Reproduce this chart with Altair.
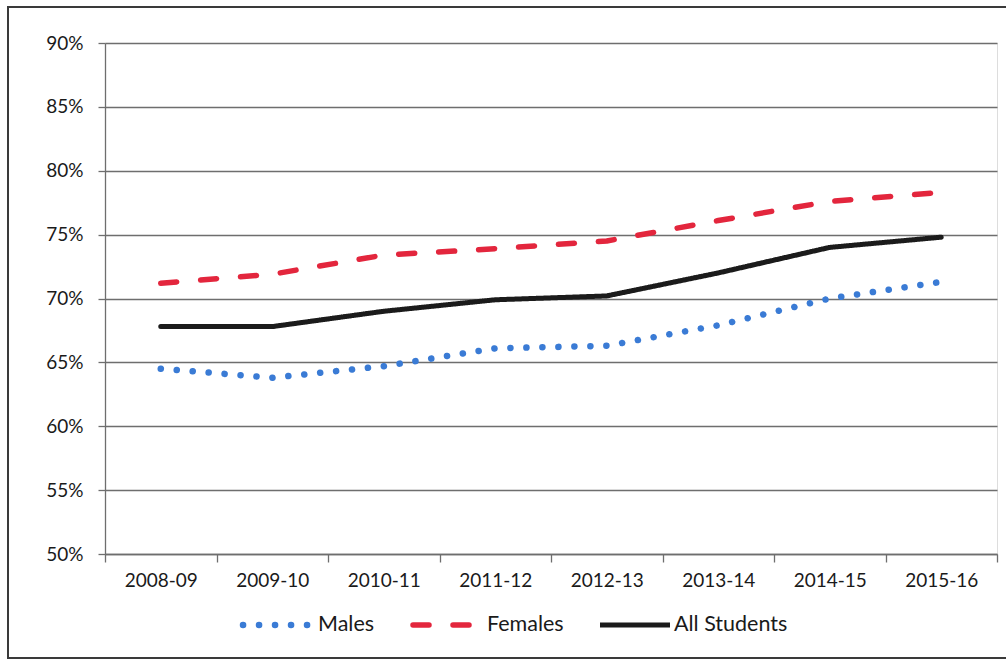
import altair as alt
import pandas as pd

# School years on the horizontal axis
years = ["2008-09", "2009-10", "2010-11", "2011-12",
         "2012-13", "2013-14", "2014-15", "2015-16"]

# Rates in percent, one list per group
males = [64.5, 63.8, 64.7, 66.1, 66.3, 67.9, 70.0, 71.3]
females = [71.2, 71.9, 73.4, 73.9, 74.5, 76.1, 77.6, 78.3]
all_students = [67.8, 67.8, 69.0, 69.9, 70.2, 72.0, 74.0, 74.8]

series_names = ["Males", "Females", "All Students"]
y_ticks = [50, 55, 60, 65, 70, 75, 80, 85, 90]

rows = []
for name, vals in zip(series_names, [males, females, all_students]):
    for yr, v in zip(years, vals):
        rows.append({"year": yr, "series": name, "value": v})
df = pd.DataFrame(rows)

FONT = "Lato"
GRID = "#6e6e6e"
TEXT = "#1a1a1a"

# Line style for each group: colour, width, dash pattern
styles = {
    "Males": dict(color="#3a7bd5", strokeWidth=6.5, strokeDash=[0.1, 15.9]),
    "Females": dict(color="#e3263d", strokeWidth=5.5, strokeDash=[16, 24]),
    "All Students": dict(color="#1b1b1b", strokeWidth=5, strokeDash=[1, 0]),
}

x_enc = alt.X(
    "year:N", sort=years, bandPosition=0.5,
    scale=alt.Scale(type="band", paddingInner=0, paddingOuter=0),
    axis=alt.Axis(
        title=None, tickBand="extent", labelAngle=0, tickSize=8,
        labelPadding=9, labelFont=FONT, labelFontSize=19,
        labelColor=TEXT, domainColor=GRID, tickColor=GRID,
        domainWidth=1.3, tickWidth=1.3, grid=False,
    ),
)
y_enc = alt.Y(
    "value:Q",
    scale=alt.Scale(domain=[50, 90], nice=False, zero=False),
    axis=alt.Axis(
        title=None, values=y_ticks, labelExpr="datum.value + '%'",
        tickSize=7, labelPadding=15, labelFont=FONT, labelFontSize=19,
        labelColor=TEXT, domainColor=GRID, tickColor=GRID,
        gridColor=GRID, gridWidth=1.3, domainWidth=1.3, tickWidth=1.3,
        grid=True,
    ),
)

base = alt.Chart(df)
line_layers = [
    base.transform_filter(alt.datum.series == name).mark_line(
        strokeCap="round", strokeJoin="round", **styles[name]
    ).encode(x=x_enc, y=y_enc)
    for name in series_names
]

# Legend keys and labels under the axis
one = pd.DataFrame({"k": [0]})
legend_keys = [
    ("Males", 138, 203, 213),
    ("Females", 308, 367, 382),
    ("All Students", 495, 565, 569),
]
legend_layers = []
for name, x0, x1, tx in legend_keys:
    st = styles[name]
    legend_layers.append(
        alt.Chart(one).mark_rule(
            strokeCap="round" if name != "All Students" else "butt", **st
        ).encode(x=alt.value(x0), x2=alt.value(x1), y=alt.value(582))
    )
    legend_layers.append(
        alt.Chart(one).mark_text(
            text=name, font=FONT, fontSize=21.5, color=TEXT,
            align="left", baseline="middle",
        ).encode(x=alt.value(tx), y=alt.value(582))
    )

# Frame around the whole chart
frame = alt.Chart(one).mark_rect(
    fill=None, stroke="#3a3a3a", strokeWidth=2
).encode(
    x=alt.value(-97), x2=alt.value(910),
    y=alt.value(-36), y2=alt.value(615),
)

chart = alt.layer(frame, *line_layers, *legend_layers).properties(
    width=892, height=511,
    padding={"left": 105, "top": 43, "right": 9, "bottom": 108},
    autosize=alt.AutoSizeParams(type="none"),
).configure_view(stroke=None).configure(background="white")

chart.save("out.html", embed_options={"renderer": "svg", "actions": False})
